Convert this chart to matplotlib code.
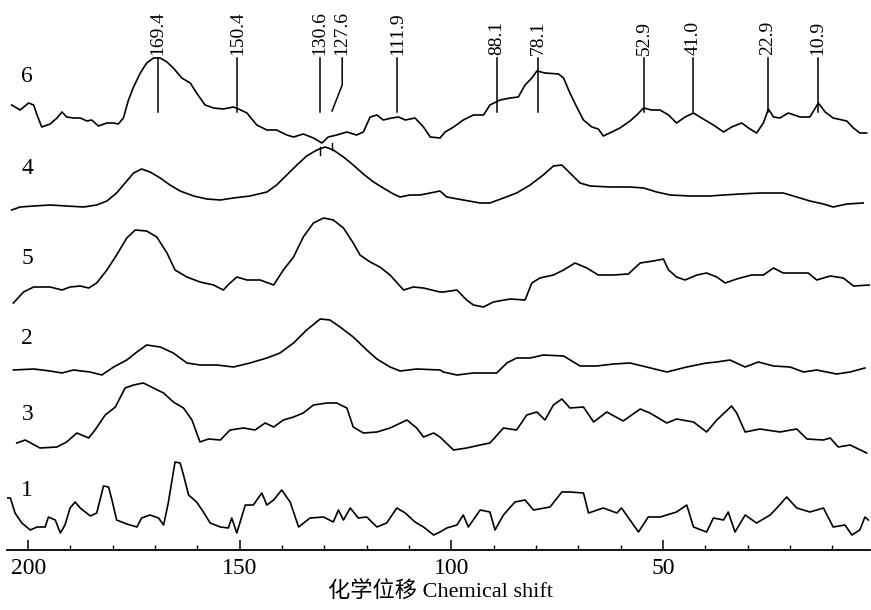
import matplotlib
matplotlib.use("Agg")
import matplotlib.pyplot as plt
from matplotlib.ticker import MultipleLocator

plt.rcParams["font.family"] = ["Liberation Serif", "Noto Sans CJK SC"]

# chemical shift (ppm) and relative intensity
shift_6 = [203.9, 201.9, 199.9, 198.7, 197.9, 196.8, 194.8, 193.2, 192.0, 190.9,
           189.3, 187.7, 186.1, 185.0, 183.4, 181.4, 179.8, 178.7, 177.5, 176.3,
           175.1, 173.5, 172.0, 170.4, 168.8, 167.2, 165.7, 163.7, 161.7, 160.2,
           158.2, 156.2, 153.9, 151.5, 150.3, 148.3, 146.0, 143.6, 141.3, 138.9,
           137.3, 135.0, 132.6, 130.6, 129.1, 127.1, 124.7, 122.4, 120.8, 119.2,
           117.6, 116.1, 114.1, 112.5, 110.9, 108.6, 106.6, 105.0, 102.7, 101.5,
           99.5, 97.2, 94.8, 92.4, 90.9, 88.5, 86.1, 84.2, 82.6, 81.0,
           79.8, 77.9, 74.7, 73.5, 72.0, 70.4, 68.8, 66.8, 65.3, 64.1,
           62.1, 60.2, 57.8, 56.2, 54.6, 52.7, 50.7, 48.7, 46.8, 44.8,
           42.8, 40.9, 38.1, 35.7, 33.8, 31.4, 29.8, 27.9, 26.3, 25.1,
           23.9, 22.4, 20.4, 17.6, 15.3, 13.3, 11.7, 9.8, 6.6, 5.0,
           3.5, 1.9]
int_6 = [20, 15, 22, 20, 10, -2, 1, 7, 13, 8,
         7, 7, 4, 5, -1, 2, 2, 1, 7, 25,
         38, 52, 62, 67, 67, 63, 57, 47, 42, 32,
         20, 17, 16, 18, 16, 12, 0, -5, -5, -10,
         -12, -9, -13, -18, -12, -10, -7, -10, -7, 8,
         10, 5, 7, 8, 5, 7, -2, -12, -13, -7,
         -2, 5, 10, 10, 20, 25, 27, 28, 40, 47,
         54, 52, 51, 47, 32, 18, 5, -2, -4, -11,
         -7, -3, 4, 10, 17, 15, 15, 10, 2, 8,
         12, 7, 0, -7, -2, 2, -3, -8, 2, 16,
         8, 7, 12, 8, 8, 22, 13, 7, 4, -3,
         -8, -8]

shift_4 = [203.9, 201.9, 198.7, 194.8, 190.9, 186.9, 183.8, 181.4, 179.1, 177.1,
           175.1, 173.2, 171.2, 168.8, 166.5, 164.1, 160.9, 157.8, 154.6, 151.5,
           147.6, 143.6, 141.3, 138.9, 136.5, 134.2, 131.8, 129.8, 127.9, 125.5,
           123.2, 120.8, 118.4, 116.1, 113.7, 112.1, 109.8, 107.4, 105.0, 102.7,
           101.1, 97.2, 93.2, 90.9, 87.7, 84.6, 81.4, 78.3, 75.9, 73.9,
           72.0, 69.6, 67.2, 62.5, 59.4, 57.8, 54.6, 51.5, 48.3, 43.6,
           38.9, 35.7, 31.8, 27.1, 21.6, 18.4, 15.3, 12.1, 9.8, 6.6, 2.7]
int_4 = [-5, -2, -1, 0, -1, -2, 0, 4, 12, 22,
         32, 36, 33, 27, 20, 14, 9, 6, 5, 7,
         9, 13, 20, 30, 40, 49, 55, 58, 55, 48,
         40, 31, 23, 17, 11, 8, 10, 10, 12, 14,
         8, 5, 2, 2, 7, 12, 20, 30, 39, 40,
         32, 22, 19, 18, 18, 18, 17, 13, 10, 9,
         9, 10, 11, 12, 12, 8, 4, 1, -2, 1, 2]

shift_5 = [203.5, 201.1, 198.7, 194.8, 192.0, 190.1, 187.7, 185.7, 183.8, 181.4,
           179.1, 176.7, 174.7, 172.0, 169.6, 167.2, 165.3, 162.5, 159.4, 156.2,
           153.9, 152.3, 150.7, 148.3, 145.2, 142.0, 139.7, 137.3, 135.0, 132.6,
           130.2, 127.9, 125.5, 123.2, 121.6, 119.2, 116.9, 114.5, 111.3, 109.0,
           106.6, 102.7, 101.9, 98.7, 96.4, 94.8, 92.4, 90.1, 86.1, 82.6,
           81.0, 79.1, 75.9, 73.5, 70.8, 68.0, 65.3, 61.7, 58.2, 55.4,
           52.3, 49.9, 48.7, 46.8, 44.8, 42.0, 39.7, 37.3, 35.3, 32.6,
           29.1, 26.3, 23.9, 21.6, 18.4, 15.7, 13.7, 10.5, 7.4, 5.0, 1.1]
int_5 = [-13, -2, 3, 3, 0, 3, 4, 2, 7, 20,
         35, 52, 60, 59, 53, 37, 20, 13, 8, 5,
         0, 7, 13, 10, 10, 5, 20, 33, 53, 67,
         72, 70, 62, 47, 35, 28, 23, 15, 0, 3,
         2, -2, -2, 0, -10, -15, -17, -12, -9, -10,
         7, 12, 15, 20, 27, 22, 15, 15, 16, 27,
         29, 31, 20, 13, 10, 15, 17, 13, 7, 11,
         15, 15, 22, 17, 17, 17, 10, 14, 12, 4, 5]

shift_2 = [203.5, 198.7, 194.8, 192.0, 189.3, 185.4, 182.6, 179.8, 176.7, 174.3,
           172.0, 168.8, 165.7, 162.5, 159.4, 155.4, 151.5, 147.6, 143.6, 140.5,
           137.3, 134.2, 131.0, 128.7, 126.3, 123.2, 120.0, 117.6, 114.5, 112.1,
           108.2, 102.7, 101.9, 98.7, 94.8, 89.3, 86.9, 84.6, 81.4, 78.3,
           73.5, 69.6, 65.7, 61.7, 57.8, 53.9, 49.1, 44.4, 39.7, 37.3,
           34.2, 30.6, 27.5, 23.9, 20.0, 16.8, 13.7, 9.0, 5.8, 2.3]
int_2 = [0, 1, -1, -3, 0, -2, -5, 3, 10, 18,
         25, 23, 17, 7, 5, 5, 3, 7, 12, 17,
         27, 40, 51, 50, 43, 33, 20, 11, 3, -1,
         1, 0, -2, -5, -3, -3, 7, 12, 12, 15,
         14, 4, 4, 6, 7, 3, -2, 3, 7, 8,
         10, 3, 8, 4, 3, -2, 0, -4, -2, 2]

shift_3 = [202.7, 200.7, 197.2, 193.2, 190.9, 188.5, 185.7, 184.2, 181.8, 179.4,
           177.1, 175.1, 172.8, 170.4, 168.0, 165.7, 163.3, 161.3, 159.4, 157.4,
           154.6, 152.3, 149.1, 146.4, 144.0, 142.0, 139.7, 137.3, 135.0, 132.6,
           129.4, 127.1, 124.7, 123.2, 120.8, 117.6, 114.5, 110.5, 108.2, 106.6,
           104.2, 102.7, 99.5, 96.4, 93.2, 90.9, 87.7, 84.6, 82.2, 79.8,
           77.9, 75.9, 73.9, 72.0, 68.8, 66.4, 63.3, 59.4, 55.4, 53.1,
           49.1, 46.8, 42.8, 39.7, 37.3, 33.8, 32.6, 30.6, 27.1, 22.4,
           18.4, 16.0, 12.1, 10.5, 8.6, 5.8, 1.9]
int_3 = [-3, 0, -8, -7, -2, 7, 2, 10, 25, 33,
         52, 55, 57, 52, 47, 38, 32, 20, -2, 1,
         0, 10, 12, 10, 17, 13, 20, 23, 27, 35,
         37, 37, 32, 13, 7, 8, 12, 20, 12, 3,
         7, 3, -10, -8, -5, -3, 12, 10, 25, 28,
         20, 35, 41, 32, 33, 18, 28, 19, 31, 27,
         17, 21, 18, 8, 20, 34, 27, 8, 11, 8,
         11, 1, 0, 2, -7, -5, -13]

shift_1 = [205.0, 204.2, 203.1, 201.5, 199.5, 197.9, 196.0, 195.2, 193.6, 192.4,
           191.3, 190.1, 188.9, 187.7, 185.3, 183.8, 182.2, 181.0, 180.2, 179.1,
           176.7, 174.3, 173.2, 171.2, 169.2, 168.0, 166.9, 165.3, 164.1, 163.3,
           162.1, 160.2, 158.6, 157.0, 154.6, 152.7, 151.9, 150.7, 148.7, 146.8,
           144.8, 143.6, 142.0, 140.1, 138.1, 136.1, 133.4, 130.2, 127.9, 126.7,
           125.5, 123.9, 122.0, 120.0, 117.6, 115.3, 112.9, 110.9, 108.6, 106.6,
           104.2, 102.7, 101.1, 98.7, 97.2, 96.0, 93.2, 90.9, 89.7, 87.7,
           85.0, 82.6, 80.6, 76.7, 73.9, 72.0, 68.8, 67.6, 64.1, 60.9,
           59.8, 57.8, 55.8, 53.5, 50.7, 46.8, 44.4, 42.8, 39.7, 38.1,
           35.7, 34.6, 33.0, 30.6, 27.9, 24.7, 23.1, 20.8, 18.4, 15.3,
           12.1, 9.8, 7.0, 5.4, 3.5, 2.3, 1.5]
int_1 = [27, 27, 12, 2, -5, -2, -2, 8, 5, -8,
         0, 17, 23, 17, 9, 12, 39, 38, 25, 5,
         1, -2, 7, 10, 7, 0, 22, 63, 62, 50,
         30, 23, 13, 2, -2, -3, 7, -8, 20, 20,
         32, 20, 25, 35, 23, -2, 7, 8, 3, 15,
         5, 17, 7, 8, -2, 2, 17, 12, 3, -2,
         -10, -7, -3, 0, 10, -2, 15, 13, -5, 10,
         23, 25, 15, 18, 33, 33, 32, 12, 17, 12,
         17, 5, -7, 8, 8, 13, 20, -2, -7, 7,
         5, 13, -7, 10, 2, 10, 17, 28, 17, 13,
         17, -2, 0, -10, -5, 8, 5]

trace_names = ["6", "4", "5", "2", "3", "1"]
trace_shifts = [shift_6, shift_4, shift_5, shift_2, shift_3, shift_1]
trace_ints = [int_6, int_4, int_5, int_2, int_3, int_1]
trace_offsets = [425, 345, 260, 180, 110, 25]
name_heights = [473, 382, 292, 212, 135, 60]

# peak labels on spectrum 6 and where their marker lines sit
peak_labels = ["169.4", "150.4", "130.6", "127.6", "111.9",
               "88.1", "78.1", "52.9", "41.0", "22.9", "10.9"]
peak_pos = [169.3, 150.6, 131.0, 125.8, 112.8, 89.2, 79.5, 54.5, 42.9, 25.2, 13.4]


def main():
    fig = plt.figure(figsize=(8.71, 6.10), dpi=100)
    ax = fig.add_axes([7 / 871, 60 / 610, 863 / 871, 550 / 610])

    for xs, ys, off in zip(trace_shifts, trace_ints, trace_offsets):
        ax.plot(xs, [v + off for v in ys], color="black", lw=1.2)
    for name, h in zip(trace_names, name_heights):
        ax.text(200.2, h, name, fontsize=17, ha="center", va="center")

    line_top, line_bot = 492, 438
    for lab, pos in zip(peak_labels, peak_pos):
        if lab == "127.6":
            ax.plot([pos, pos, 128.2], [line_top, 465, line_bot + 1], color="black", lw=1.1)
        else:
            ax.plot([pos, pos], [line_top, line_bot], color="black", lw=1.1)
        ax.text(pos, line_top + 3, lab, rotation=90, fontsize=14,
                ha="center", va="bottom")

    # small markers on spectrum 4
    ax.plot([131.0, 131.0], [403, 395], color="black", lw=1.0)
    ax.plot([128.2, 128.2], [407, 400], color="black", lw=1.0)

    ax.set_xlim(205.0, 1.1)
    ax.set_ylim(0, 550)
    for side in ["left", "right", "top"]:
        ax.spines[side].set_visible(False)
    ax.spines["bottom"].set_linewidth(1.3)
    ax.set_yticks([])
    ax.xaxis.set_major_locator(MultipleLocator(50))
    ax.xaxis.set_minor_locator(MultipleLocator(10))
    ax.tick_params(axis="x", which="major", direction="in", length=7, width=1.1,
                   labelsize=17, pad=6)
    ax.tick_params(axis="x", which="minor", direction="in", length=3.5, width=1.0)
    ax.patch.set_alpha(0)

    fig.text(440 / 871, 1 - 591 / 610, "化学位移 Chemical shift", fontsize=16,
             ha="center", va="center")

    fig.savefig("out.png", dpi=100)


if __name__ == "__main__":
    main()
